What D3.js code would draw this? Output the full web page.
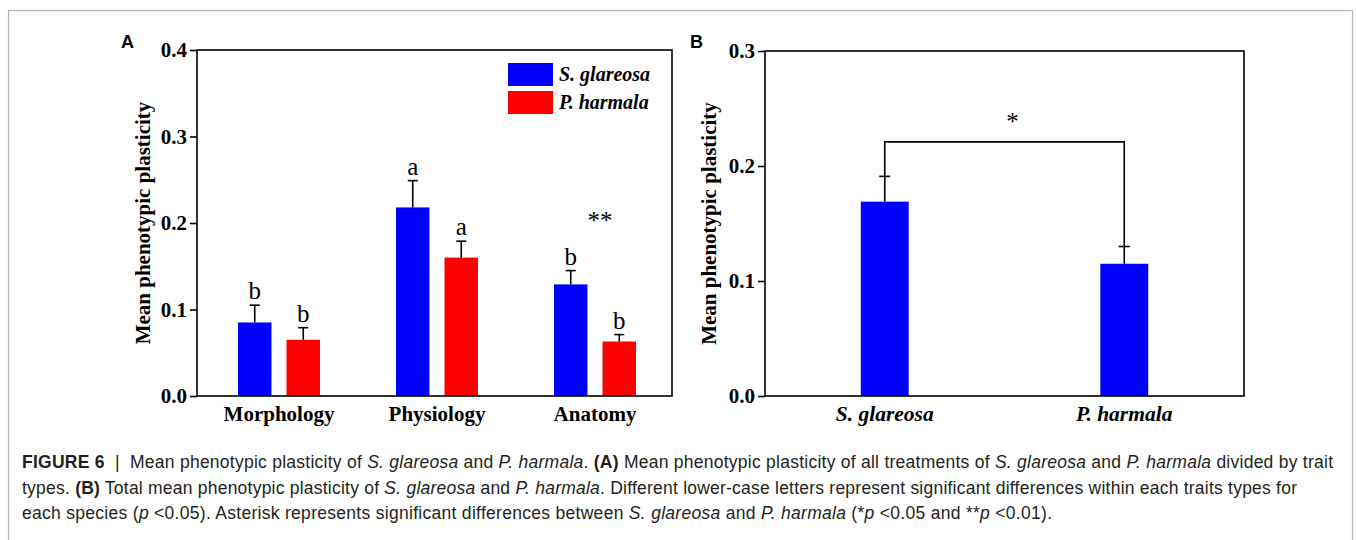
<!DOCTYPE html>
<html>
<head>
<meta charset="utf-8">
<script src="https://cdn.jsdelivr.net/npm/d3@7"></script>
<style>
  html, body { margin: 0; padding: 0; background: #fff; }
  svg { display: block; }
</style>
</head>
<body>
<svg id="fig" width="1356" height="540"></svg>
<script>
// ---- Panel A: plasticity by trait type ----
const traitTypes = ["Morphology", "Physiology", "Anatomy"];
const speciesNames = ["S. glareosa", "P. harmala"];
const glareosaMean = [0.085, 0.218, 0.129];
const glareosaSE = [0.020, 0.031, 0.016];
const harmalaMean = [0.065, 0.160, 0.063];
const harmalaSE = [0.014, 0.019, 0.008];
const glareosaLetters = ["b", "a", "b"];
const harmalaLetters = ["b", "a", "b"];
const traitStars = ["", "", "**"];
const yTicksA = [0.0, 0.1, 0.2, 0.3, 0.4];

// ---- Panel B: total plasticity ----
const totalSpecies = ["S. glareosa", "P. harmala"];
const totalMean = [0.169, 0.115];
const totalSE = [0.022, 0.015];
const bracketLevel = 0.221;
const bracketLabel = "*";
const yTicksB = [0.0, 0.1, 0.2, 0.3];

const colors = ["#0000ff", "#ff0000"];
const yTitle = "Mean phenotypic plasticity";

const svg = d3.select("#fig");
const serif = "'Liberation Serif', 'Times New Roman', serif";
const sans = "'Liberation Sans', Arial, sans-serif";
const axisStroke = 1.6;

// outer figure frame
svg.append("rect")
  .attr("x", 8.5).attr("y", 10.5)
  .attr("width", 1344).attr("height", 600)
  .attr("fill", "none").attr("stroke", "#b4b4b4").attr("stroke-width", 1.2);

function drawFrame(g, x0, x1, y, ticks) {
  const ax = g.append("g")
    .attr("transform", `translate(${x0},0)`)
    .call(d3.axisLeft(y).tickValues(ticks).tickFormat(d3.format(".1f")).tickSize(7).tickPadding(3));
  ax.select(".domain").remove();
  ax.selectAll("line").attr("stroke", "#000").attr("stroke-width", axisStroke);
  ax.selectAll("text")
    .attr("font-family", serif).attr("font-weight", "bold")
    .attr("font-size", 21).attr("fill", "#000");
  g.append("rect")
    .attr("x", x0).attr("y", y.range()[1])
    .attr("width", x1 - x0).attr("height", y.range()[0] - y.range()[1])
    .attr("fill", "none").attr("stroke", "#000").attr("stroke-width", axisStroke);
}

function errorBar(g, cx, yTop, yEnd, cap) {
  g.append("line").attr("x1", cx).attr("x2", cx).attr("y1", yTop).attr("y2", yEnd)
    .attr("stroke", "#000").attr("stroke-width", axisStroke);
  g.append("line").attr("x1", cx - cap / 2).attr("x2", cx + cap / 2).attr("y1", yEnd).attr("y2", yEnd)
    .attr("stroke", "#000").attr("stroke-width", axisStroke);
}

// ================= Panel A =================
{
  const left = 197, right = 672, top = 50, bottom = 396;
  const g = svg.append("g");
  const y = d3.scaleLinear().domain([0, 0.4]).range([bottom, top]);
  const x0 = d3.scaleBand().domain(traitTypes).range([left + 3, right + 2]).paddingInner(0).paddingOuter(0);
  const x1 = d3.scaleBand().domain(speciesNames).range([-41, 41]).paddingInner(0.31);

  const series = [
    { name: speciesNames[0], mean: glareosaMean, se: glareosaSE, letters: glareosaLetters },
    { name: speciesNames[1], mean: harmalaMean, se: harmalaSE, letters: harmalaLetters }
  ];

  series.forEach((s, si) => {
    traitTypes.forEach((t, i) => {
      const cx = x0(t) + x0.bandwidth() / 2;
      const bx = cx + x1(s.name);
      g.append("rect")
        .attr("x", bx).attr("y", y(s.mean[i]))
        .attr("width", x1.bandwidth()).attr("height", y(0) - y(s.mean[i]))
        .attr("fill", colors[si]);
      const bc = bx + x1.bandwidth() / 2;
      errorBar(g, bc, y(s.mean[i]), y(s.mean[i] + s.se[i]), 10);
      g.append("text")
        .attr("x", bc).attr("y", y(s.mean[i] + s.se[i]) - 6)
        .attr("text-anchor", "middle")
        .attr("font-family", serif).attr("font-size", 25).attr("fill", "#000")
        .text(s.letters[i]);
    });
  });

  traitTypes.forEach((t, i) => {
    if (!traitStars[i]) return;
    const top2 = Math.max(glareosaMean[i] + glareosaSE[i], harmalaMean[i] + harmalaSE[i]);
    g.append("text")
      .attr("x", x0(t) + x0.bandwidth() / 2 + 5).attr("y", y(top2) - 42)
      .attr("text-anchor", "middle")
      .attr("font-family", serif).attr("font-size", 25).attr("fill", "#000")
      .text(traitStars[i]);
  });

  drawFrame(g, left, right, y, yTicksA);

  // category labels
  traitTypes.forEach(t => {
    g.append("text")
      .attr("x", x0(t) + x0.bandwidth() / 2).attr("y", bottom + 25)
      .attr("text-anchor", "middle")
      .attr("font-family", serif).attr("font-weight", "bold").attr("font-size", 21).attr("fill", "#000")
      .text(t);
  });

  // y title
  g.append("text")
    .attr("transform", `translate(150,${(top + bottom) / 2}) rotate(-90)`)
    .attr("text-anchor", "middle")
    .attr("font-family", serif).attr("font-weight", "bold").attr("font-size", 21).attr("fill", "#000")
    .text(yTitle);

  // legend
  speciesNames.forEach((n, i) => {
    g.append("rect").attr("x", 508).attr("y", 63 + i * 28)
      .attr("width", 45).attr("height", 23).attr("fill", colors[i]);
    g.append("text").attr("x", 559).attr("y", 81 + i * 28)
      .attr("font-family", serif).attr("font-weight", "bold").attr("font-style", "italic")
      .attr("font-size", 20).attr("fill", "#000")
      .text(n);
  });

  g.append("text").attr("x", 121).attr("y", 48)
    .attr("font-family", sans).attr("font-weight", "bold").attr("font-size", 18).attr("fill", "#000")
    .text("A");
}

// ================= Panel B =================
{
  const left = 765, right = 1244, top = 51, bottom = 396;
  const g = svg.append("g");
  const y = d3.scaleLinear().domain([0, 0.3]).range([bottom, top]);
  const x = d3.scaleBand().domain(totalSpecies).range([left, right]).paddingInner(0.8).paddingOuter(0.4);

  totalSpecies.forEach((n, i) => {
    g.append("rect")
      .attr("x", x(n)).attr("y", y(totalMean[i]))
      .attr("width", x.bandwidth()).attr("height", y(0) - y(totalMean[i]))
      .attr("fill", colors[0]);
    errorBar(g, x(n) + x.bandwidth() / 2, y(totalMean[i]), y(totalMean[i] + totalSE[i]), 11);
  });

  // significance bracket
  const c0 = x(totalSpecies[0]) + x.bandwidth() / 2;
  const c1 = x(totalSpecies[1]) + x.bandwidth() / 2;
  g.append("path")
    .attr("d", d3.line()([
      [c0, y(totalMean[0] + totalSE[0])],
      [c0, y(bracketLevel)],
      [c1, y(bracketLevel)],
      [c1, y(totalMean[1] + totalSE[1])]
    ]))
    .attr("fill", "none").attr("stroke", "#000").attr("stroke-width", axisStroke);
  g.append("text")
    .attr("x", (c0 + c1) / 2 + 8).attr("y", y(bracketLevel) - 12)
    .attr("text-anchor", "middle")
    .attr("font-family", serif).attr("font-size", 25).attr("fill", "#000")
    .text(bracketLabel);

  drawFrame(g, left, right, y, yTicksB);

  totalSpecies.forEach(n => {
    g.append("text")
      .attr("x", x(n) + x.bandwidth() / 2).attr("y", bottom + 25)
      .attr("text-anchor", "middle")
      .attr("font-family", serif).attr("font-weight", "bold").attr("font-style", "italic")
      .attr("font-size", 21.5).attr("fill", "#000")
      .text(n);
  });

  g.append("text")
    .attr("transform", `translate(716,${(top + bottom) / 2}) rotate(-90)`)
    .attr("text-anchor", "middle")
    .attr("font-family", serif).attr("font-weight", "bold").attr("font-size", 21).attr("fill", "#000")
    .text(yTitle);

  g.append("text").attr("x", 690).attr("y", 48)
    .attr("font-family", sans).attr("font-weight", "bold").attr("font-size", 18).attr("fill", "#000")
    .text("B");
}

// ================= Caption =================
const captionLines = [
  [["FIGURE 6", "b"], ["  |  Mean phenotypic plasticity of ", ""], ["S. glareosa", "i"], [" and ", ""], ["P. harmala", "i"], [". ", ""], ["(A)", "b"],
   [" Mean phenotypic plasticity of all treatments of ", ""], ["S. glareosa", "i"], [" and ", ""], ["P. harmala", "i"], [" divided by trait", ""]],
  [["types. ", ""], ["(B)", "b"], [" Total mean phenotypic plasticity of ", ""], ["S. glareosa", "i"], [" and ", ""], ["P. harmala", "i"],
   [". Different lower-case letters represent significant differences within each traits types for", ""]],
  [["each species (", ""], ["p", "i"], [" <0.05). Asterisk represents significant differences between ", ""], ["S. glareosa", "i"], [" and ", ""],
   ["P. harmala", "i"], [" (*", ""], ["p", "i"], [" <0.05 and **", ""], ["p", "i"], [" <0.01).", ""]]
];
const captionWidths = [1311, 1275, 1030];
captionLines.forEach((segs, li) => {
  const t = svg.append("text")
    .attr("x", 22).attr("y", 468 + li * 25.5)
    .attr("font-family", sans).attr("font-size", 17.5).attr("fill", "#231f20")
    .attr("textLength", captionWidths[li]).attr("lengthAdjust", "spacing")
    .attr("xml:space", "preserve");
  segs.forEach(([s, st]) => {
    t.append("tspan")
      .attr("font-weight", st === "b" ? "bold" : "normal")
      .attr("font-style", st === "i" ? "italic" : "normal")
      .text(s);
  });
});
</script>
</body>
</html>
